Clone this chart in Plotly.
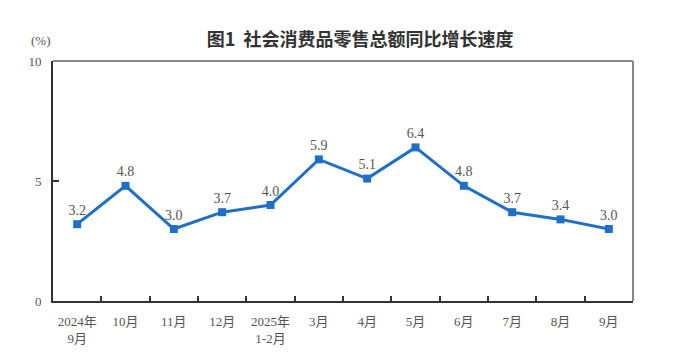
import plotly.graph_objects as go

categories = ["2024年<br>9月", "10月", "11月", "12月", "2025年<br>1-2月", "3月", "4月", "5月", "6月", "7月", "8月", "9月"]
values = [3.2, 4.8, 3.0, 3.7, 4.0, 5.9, 5.1, 6.4, 4.8, 3.7, 3.4, 3.0]
labels = ["3.2", "4.8", "3.0", "3.7", "4.0", "5.9", "5.1", "6.4", "4.8", "3.7", "3.4", "3.0"]
y_ticks = [0, 5, 10]

x = list(range(len(categories)))
serif = "Liberation Serif, Noto Sans CJK SC, serif"

fig = go.Figure()
fig.add_trace(go.Scatter(
    x=x, y=values, mode="lines+markers+text",
    line=dict(color="#1f6fc8", width=3),
    marker=dict(symbol="square", size=8, color="#1f6fc8"),
    text=labels, textposition="top center",
    textfont=dict(family=serif, size=14, color="#555555"),
    cliponaxis=False, hoverinfo="skip",
))

fig.update_layout(
    width=680, height=364,
    margin=dict(l=45, r=55, t=53, b=71),
    paper_bgcolor="white", plot_bgcolor="white",
    showlegend=False,
    title=dict(text="<b>图1  社会消费品零售总额同比增长速度</b>", x=0.518, xanchor="center",
               y=0.912, yanchor="middle",
               font=dict(family="Noto Sans CJK SC, sans-serif", size=18, color="#333333")),
    xaxis=dict(range=[-0.5, 11.5], tickvals=x, ticktext=categories, ticks="",
               showgrid=False, zeroline=False, showline=True, linecolor="#333333", linewidth=2,
               ticklabelstandoff=7,
               tickfont=dict(family=serif, size=13, color="#555555"),
               minor=dict(tickvals=[i + 0.5 for i in range(11)], ticks="inside", ticklen=5,
                          tickwidth=2, tickcolor="#333333", showgrid=False)),
    yaxis=dict(range=[0, 10], tickvals=y_ticks, ticks="inside", ticklen=6, tickwidth=2,
               tickcolor="#333333", showgrid=False, zeroline=False, showline=True,
               linecolor="#333333", linewidth=2, ticklabelstandoff=7,
               tickfont=dict(family=serif, size=13, color="#555555")),
)

# top and right frame lines (lighter)
fig.add_shape(type="line", xref="paper", yref="paper", x0=0, x1=1, y0=1, y1=1,
              line=dict(color="#888888", width=2))
fig.add_shape(type="line", xref="paper", yref="paper", x0=1, x1=1, y0=0, y1=1,
              line=dict(color="#888888", width=2))

fig.add_annotation(text="(%)", xref="paper", yref="paper", x=-0.0, y=1.085,
                   xanchor="right", yanchor="middle", showarrow=False,
                   font=dict(family=serif, size=13, color="#555555"))

fig.write_html("out.html")
